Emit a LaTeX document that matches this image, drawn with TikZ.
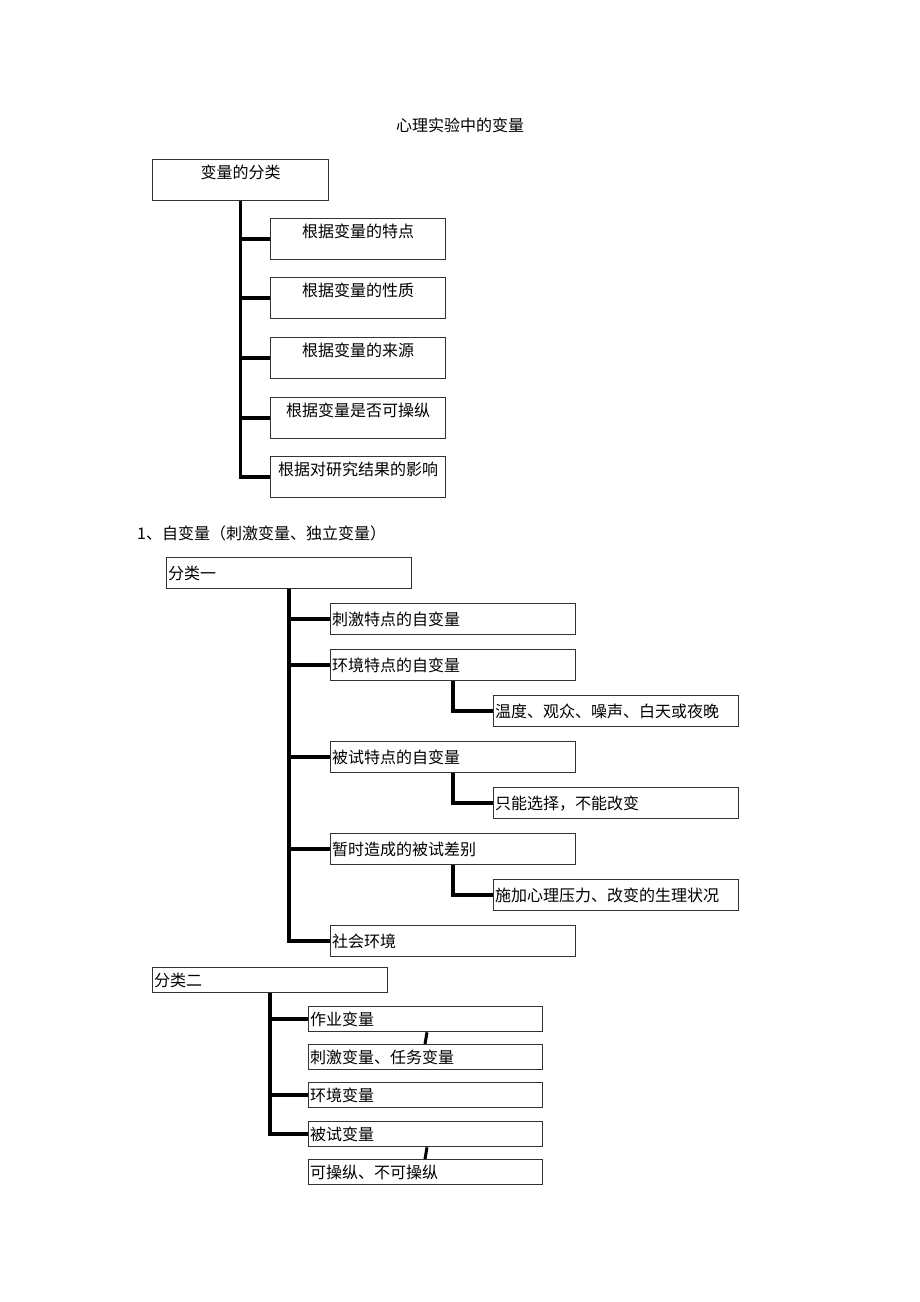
\documentclass[tikz,border=0pt]{standalone}
\usepackage{fontspec}
\setmainfont{Noto Sans CJK SC}
\begin{document}
\begin{tikzpicture}[x=1pt,y=-1pt,
  every node/.style={font=\fontsize{16pt}{18pt}\selectfont, inner sep=0pt},
  boxc/.style={draw=black!80, line width=1.3pt, anchor=north west, minimum width=175pt, minimum height=41pt, text height=14pt, text depth=17pt, align=center},
  boxl/.style={draw=black!80, line width=1.3pt, anchor=north west, minimum height=31pt, inner xsep=1.5pt, align=left},
  conn/.style={line width=3.5pt, black},
  sconn/.style={line width=3pt, black}
]
\useasboundingbox (0,0) rectangle (920,1302);

\node (title) at (460,125) {心理实验中的变量};

% section 1
\node[boxc, minimum width=176pt] (root) at (152,159) {变量的分类};
\node[boxc] (a1) at (270,218) {根据变量的特点};
\node[boxc] (a2) at (270,277) {根据变量的性质};
\node[boxc] (a3) at (270,337) {根据变量的来源};
\node[boxc] (a4) at (270,397) {根据变量是否可操纵};
\node[boxc] (a5) at (270,456) {根据对研究结果的影响};
\draw[conn] (root.south) |- (a5.west);
\foreach \n in {a1,a2,a3,a4}{\draw[conn] (root.south |- \n.west) -- (\n.west);}

% heading
\node[anchor=west] (head) at (137,533) {1、自变量（刺激变量、独立变量）};

% section 2
\node[boxl, text width=242pt] (r2) at (166,557) {分类一};
\node[boxl, text width=242pt] (k1) at (330,603) {刺激特点的自变量};
\node[boxl, text width=242pt] (k2) at (330,649) {环境特点的自变量};
\node[boxl, text width=242pt] (s1) at (493,695) {温度、观众、噪声、白天或夜晚};
\node[boxl, text width=242pt] (k3) at (330,741) {被试特点的自变量};
\node[boxl, text width=242pt] (s2) at (493,787) {只能选择，不能改变};
\node[boxl, text width=242pt] (k4) at (330,833) {暂时造成的被试差别};
\node[boxl, text width=242pt] (s3) at (493,879) {施加心理压力、改变的生理状况};
\node[boxl, text width=242pt] (k5) at (330,925) {社会环境};
\draw[conn] (r2.south) |- (k5.west);
\foreach \n in {k1,k2,k3,k4}{\draw[conn] (r2.south |- \n.west) -- (\n.west);}
\draw[conn] (k2.south) |- (s1.west);
\draw[conn] (k3.south) |- (s2.west);
\draw[conn] (k4.south) |- (s3.west);

% section 3
\node[boxl, text width=232pt, minimum height=25pt] (r3) at (152,967) {分类二};
\node[boxl, text width=231pt, minimum height=25pt] (zy) at (308,1006) {作业变量};
\node[boxl, text width=231pt, minimum height=25pt] (cj) at (308,1044) {刺激变量、任务变量};
\node[boxl, text width=231pt, minimum height=25pt] (hj) at (308,1082) {环境变量};
\node[boxl, text width=231pt, minimum height=25pt] (bs) at (308,1121) {被试变量};
\node[boxl, text width=231pt, minimum height=25pt] (kc) at (308,1159) {可操纵、不可操纵};
\draw[conn] (r3.south) |- (bs.west);
\foreach \n in {zy,hj}{\draw[conn] (r3.south |- \n.west) -- (\n.west);}
\draw[sconn] ([xshift=119pt]zy.south west) -- ([xshift=117pt]cj.north west);
\draw[sconn] ([xshift=119pt]bs.south west) -- ([xshift=117pt]kc.north west);
\end{tikzpicture}
\end{document}
